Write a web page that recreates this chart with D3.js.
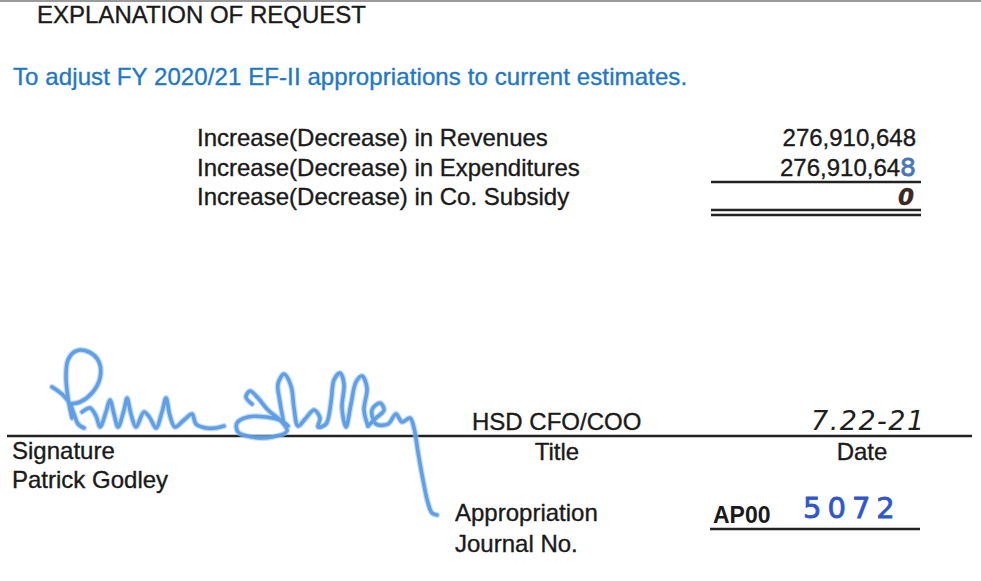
<!DOCTYPE html>
<html>
<head>
<meta charset="utf-8">
<script src="https://cdn.jsdelivr.net/npm/d3@7"></script>
<style>
  body { margin: 0; background: #fff; }
  svg { display: block; font-family: "Liberation Sans", Arial, sans-serif; }
  .ink { stroke: #1a1a1a; stroke-width: 0.35; }
</style>
</head>
<body>
<div id="doc"></div>
<script>
// Form content
const heading = "EXPLANATION OF REQUEST";
const purpose = "To adjust FY 2020/21 EF-II appropriations to current estimates.";
const rowLabels = [
  "Increase(Decrease) in Revenues",
  "Increase(Decrease) in Expenditures",
  "Increase(Decrease) in Co. Subsidy"
];
const rowAmounts = [276910648, 276910648, 0];
const signer = "Patrick Godley";
const signerTitle = "HSD CFO/COO";
const signDate = "7.22-21";
const journalPrefix = "AP00";
const journalNumber = "5072";

const width = 981,
  height = 581;

const svg = d3
  .select("#doc")
  .append("svg")
  .attr("width", width)
  .attr("height", height);

svg.append("rect").attr("width", width).attr("height", height).attr("fill", "#fff");

// faint scan edge at the top
svg.append("line")
  .attr("x1", 0).attr("x2", width).attr("y1", 1).attr("y2", 1)
  .attr("stroke", "#9a9a9a").attr("stroke-width", 2);

svg.append("text")
  .attr("class", "ink")
  .attr("x", 37).attr("y", 23)
  .attr("font-size", 24).attr("fill", "#1a1a1a")
  .text(heading);

svg.append("text")
  .attr("x", 13).attr("y", 85)
  .attr("font-size", 24)
  .attr("letter-spacing", 0.1)
  .attr("fill", "#1f78c6")
  .attr("stroke", "#1f78c6").attr("stroke-width", 0.35)
  .text(purpose);

// rows of the summary table
const y = d3.scalePoint().domain(rowLabels).range([146, 205]);
const fmt = d3.format(",");

svg.append("g")
  .selectAll("text")
  .data(rowLabels)
  .join("text")
  .attr("class", "ink")
  .attr("x", 197)
  .attr("y", (d) => y(d))
  .attr("font-size", 24)
  .attr("fill", "#1a1a1a")
  .text((d) => d);

const amounts = svg.append("g")
  .selectAll("text")
  .data(rowLabels.map((l, i) => ({ label: l, value: rowAmounts[i], i })))
  .join("text")
  .attr("class", "ink")
  .attr("x", 916)
  .attr("y", (d) => y(d.label))
  .attr("text-anchor", "end")
  .attr("font-size", 24)
  .attr("fill", "#1a1a1a");

amounts.each(function (d) {
  const t = d3.select(this);
  const s = fmt(d.value);
  if (d.i === 0) {
    t.text(s);
  } else if (d.i === 1) {
    // last digit corrected by hand in blue ink
    t.append("tspan").text(s.slice(0, -1));
    t.append("tspan")
      .attr("font-family", "DejaVu Sans")
      .attr("font-size", 25)
      .attr("fill", "#4a76b8")
      .attr("stroke", "#4a76b8")
      .attr("stroke-width", 0.8)
      .text(s.slice(-1));
  } else {
    t.attr("font-family", "DejaVu Sans")
      .attr("font-style", "italic")
      .attr("font-weight", "bold")
      .attr("font-size", 23)
      .attr("fill", "#3a2b25")
      .attr("stroke", "#3a2b25")
      .attr("stroke-width", 0.8)
      .attr("dx", -2)
      .text(s);
  }
});

// total rules
const rule = (x1, x2, yy, w) =>
  svg.append("line")
    .attr("x1", x1).attr("x2", x2).attr("y1", yy).attr("y2", yy)
    .attr("stroke", "#222").attr("stroke-width", w);

rule(711, 921, 182, 2.5);
rule(711, 921, 210, 2.5);
rule(711, 921, 215, 2.5);

// signature block
rule(7, 972, 436, 2.5);

const label = (x, yy, txt, anchor) =>
  svg.append("text")
    .attr("class", "ink")
    .attr("x", x).attr("y", yy)
    .attr("font-size", 24).attr("fill", "#1a1a1a")
    .attr("text-anchor", anchor || "start")
    .text(txt);

label(472, 430, signerTitle);
label(12, 459, "Signature");
label(12, 488, signer);
label(557, 460, "Title", "middle");
label(862, 460, "Date", "middle");
label(455, 521, "Appropriation");
label(455, 552, "Journal No.");

svg.append("text")
  .attr("x", 713).attr("y", 523)
  .attr("font-size", 23).attr("font-weight", "bold").attr("fill", "#1a1a1a")
  .text(journalPrefix);

rule(710, 920, 529, 2.5);

svg.append("text")
  .attr("x", 803).attr("y", 518)
  .attr("font-family", "DejaVu Sans")
  .attr("font-size", 29)
  .attr("letter-spacing", 6)
  .attr("fill", "#2f57c9")
  .attr("stroke", "#2f57c9")
  .attr("stroke-width", 0.8)
  .text(journalNumber);

svg.append("text")
  .attr("x", 811).attr("y", 430)
  .attr("font-family", "DejaVu Sans")
  .attr("font-style", "italic")
  .attr("font-weight", 200)
  .attr("font-size", 27)
  .attr("letter-spacing", 1.5)
  .attr("fill", "#1e1e1e")
  .text(signDate);

// handwritten signature (blue ink)
const pen = d3.line().curve(d3.curveCatmullRom.alpha(0.5));
const strokes = [
  // P
  [[52,387],[58,391],[64,396],[70,404],[74,414],[78,424],[84,428]],
  [[72,418],[68,398],[66,376],[68,360],[76,351],[89,352],[99,362],[100,378],[92,393],[80,402],[70,404]],
  // atrick
  [[82,412],[90,408],[96,416],[100,427],[106,412],[110,400],[114,414],[118,427],[124,410],[127,398],
   [131,414],[136,427],[144,412],[150,418],[156,428],[162,412],[166,398],[170,416],[175,427],
   [184,420],[192,414],[196,424],[206,428],[216,428],[224,426]],
  // G loop
  [[252,404],[246,397],[250,391],[258,398],[268,410],[282,422],[287,431],[272,437],[252,437],
   [238,432],[237,423],[248,417],[266,417],[282,421],[288,426]],
  // G upstroke, o, ll
  [[284,424],[280,402],[278,384],[284,374],[291,386],[294,408],[298,426],[306,418],[314,410],
   [320,418],[318,427],[326,424],[331,402],[334,380],[340,373],[344,384],[342,408],[346,427],
   [351,404],[356,382],[362,376],[367,388],[364,410],[368,426]],
  // e, y and tail
  [[368,426],[376,418],[384,410],[380,403],[372,410],[376,424],[388,424],[396,414],[402,422],
   [410,418],[414,428],[418,452],[423,480],[428,503],[432,513],[437,515]]
];

const sig = svg.append("g")
  .attr("fill", "none")
  .attr("stroke-linecap", "round")
  .attr("stroke-linejoin", "round");

// soft halo for the fuzzy ink edge, then the core stroke
[[6, "#9cc4f0", 0.6], [3.6, "#5c9ce4", 0.95]].forEach(([w, c, o]) => {
  sig.append("g")
    .attr("stroke", c)
    .attr("stroke-width", w)
    .attr("opacity", o)
    .selectAll("path")
    .data(strokes)
    .join("path")
    .attr("d", pen);
});
</script>
</body>
</html>
